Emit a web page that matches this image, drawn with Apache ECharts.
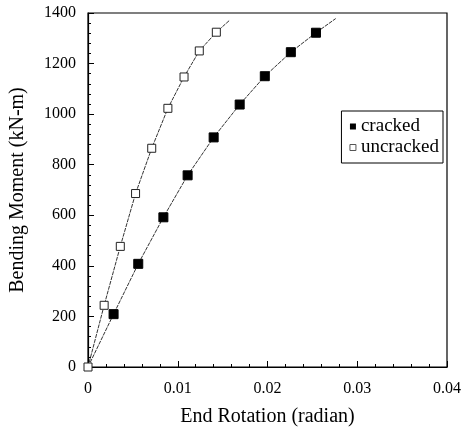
<!DOCTYPE html>
<html><head><meta charset="utf-8">
<script src="https://cdn.jsdelivr.net/npm/echarts@6/dist/echarts.min.js"></script>
<style>html,body{margin:0;padding:0;background:#fff}#c{width:464px;height:432px}</style>
</head><body><div id="c"></div>
<script>
// Data
var crackedRot = [0.00285, 0.0056, 0.0084, 0.0111, 0.0140, 0.0169, 0.0197, 0.0226, 0.0254];
var crackedMom = [209, 408, 592, 758, 908, 1038, 1150, 1245, 1322];
var uncrackedRot = [0, 0.0018, 0.0036, 0.0053, 0.0071, 0.0089, 0.0107, 0.0124, 0.0143];
var uncrackedMom = [0, 244, 477, 686, 865, 1023, 1147, 1250, 1324];
// fitted-curve line paths (start at origin, extend past last marker)
var crackedLineRot = [0].concat(crackedRot, [0.0276]);
var crackedLineMom = [0].concat(crackedMom, [1378]);
var uncrackedLineRot = uncrackedRot.concat([0.0158]);
var uncrackedLineMom = uncrackedMom.concat([1372]);
var xTicks = ['0', '0.01', '0.02', '0.03', '0.04'];

function pairs(a, b) { return a.map(function (v, i) { return [v, b[i]]; }); }

var font = '"Liberation Serif", "DejaVu Serif", serif';
var chart = echarts.init(document.getElementById('c'));
chart.setOption({
  animation: false,
  grid: { left: 87, right: 17, top: 13, bottom: 62, show: true, borderColor: '#000', borderWidth: 1.2 },
  xAxis: {
    type: 'value', min: 0, max: 0.04, interval: 0.01,
    name: 'End Rotation (radian)', nameLocation: 'middle', nameGap: 40,
    nameTextStyle: { fontFamily: font, fontSize: 20, color: '#000' },
    axisLine: { lineStyle: { color: '#000', width: 1.2 } },
    axisTick: { inside: true, length: 6, lineStyle: { color: '#000' } },
    minorTick: { show: true, splitNumber: 5, length: 3, lineStyle: { color: '#000' } },
    splitLine: { show: false },
    axisLabel: { fontFamily: font, fontSize: 16, color: '#000', margin: 14,
      formatter: function (v) { return xTicks[Math.round(v / 0.01)]; } }
  },
  yAxis: {
    type: 'value', min: 0, max: 1400, interval: 200,
    name: 'Bending Moment (kN-m)', nameLocation: 'middle', nameGap: 60,
    nameTextStyle: { fontFamily: font, fontSize: 20, color: '#000' },
    axisLine: { lineStyle: { color: '#000', width: 1.2 } },
    axisTick: { inside: true, length: 6, lineStyle: { color: '#000' } },
    minorTick: { show: true, splitNumber: 5, length: 3, lineStyle: { color: '#000' } },
    splitLine: { show: false },
    axisLabel: { fontFamily: font, fontSize: 16, color: '#000', margin: 12,
      formatter: function (v) { return String(v); } }
  },
  legend: {
    right: 21, top: 111, orient: 'vertical', itemWidth: 6, itemHeight: 6, itemGap: 2,
    backgroundColor: '#fff', borderColor: '#000', borderWidth: 1, padding: [6, 4, 6, 8],
    textStyle: { fontFamily: font, fontSize: 19, color: '#000' },
    data: [
      { name: 'cracked', icon: 'rect', itemStyle: { color: '#000', borderColor: '#000' } },
      { name: 'uncracked', icon: 'rect', itemStyle: { color: '#fff', borderColor: '#555', borderWidth: 1 } }
    ]
  },
  series: [
    { name: 'crackedLine', type: 'line', data: pairs(crackedLineRot, crackedLineMom), showSymbol: false, symbol: 'none',
      lineStyle: { color: '#333', width: 1, type: [4, 1] }, z: 2, silent: true },
    { name: 'uncrackedLine', type: 'line', data: pairs(uncrackedLineRot, uncrackedLineMom), showSymbol: false, symbol: 'none',
      lineStyle: { color: '#333', width: 1, type: [4, 1] }, z: 2, silent: true },
    { name: 'cracked', type: 'scatter', data: pairs(crackedRot, crackedMom), symbol: 'rect', symbolSize: 9,
      itemStyle: { color: '#000', borderColor: '#000', opacity: 1 }, z: 3 },
    { name: 'uncracked', type: 'scatter', data: pairs(uncrackedRot, uncrackedMom), symbol: 'rect', symbolSize: 8,
      itemStyle: { color: '#fff', borderColor: '#222', borderWidth: 1, opacity: 1 }, z: 3 }
  ]
});
</script></body></html>
